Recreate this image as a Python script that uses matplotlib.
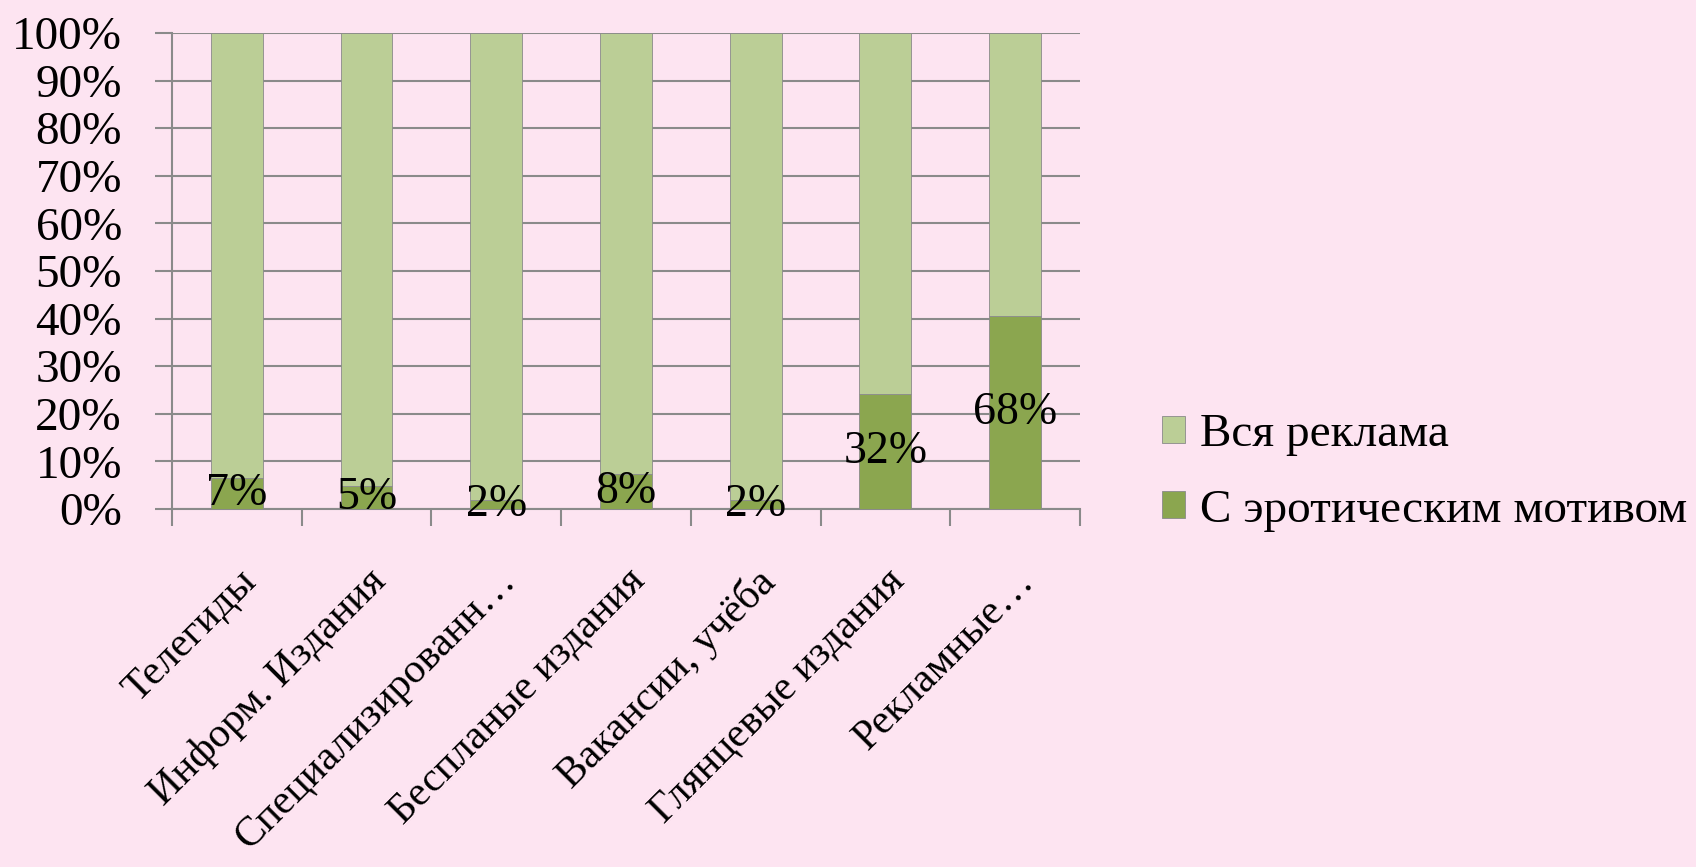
import matplotlib.pyplot as plt
import numpy as np

# Данные диаграммы
категории = ["Телегиды", "Информ. Издания", "Специализированн…",
             "Беспланые издания", "Вакансии, учёба", "Глянцевые издания",
             "Рекламные…"]
вся_реклама = [1.0, 1.0, 1.0, 1.0, 1.0, 1.0, 1.0]
эротика = [0.07, 0.05, 0.02, 0.08, 0.02, 0.32, 0.68]
подписи = ["7%", "5%", "2%", "8%", "2%", "32%", "68%"]

фон = "#FDE4F1"
светлый = "#BBCE96"
тёмный = "#8BA64F"
серый = "#8A8A8A"

plt.rcParams['font.family'] = ['Liberation Serif', 'DejaVu Serif']

fig = plt.figure(figsize=(16.96, 8.67), dpi=100, facecolor=фон)
ax = fig.add_axes([0.1014, 0.4129, 0.5354, 0.5491])
ax.set_facecolor(фон)

# 100% нормировка
всего = np.array(вся_реклама) + np.array(эротика)
доля_эр = np.array(эротика) / всего * 100
доля_вся = np.array(вся_реклама) / всего * 100

x = np.arange(len(категории))
b1 = ax.bar(x, доля_эр, width=0.4, color=тёмный, edgecolor=серый, linewidth=0.6, zorder=3)
b2 = ax.bar(x, доля_вся, bottom=доля_эр, width=0.4, color=светлый, edgecolor=серый,
            linewidth=0.6, zorder=3)

for xi, h, t in zip(x, доля_эр, подписи):
    ax.text(xi, h / 2, t, ha='center', va='center', fontsize=33, zorder=4)

ax.set_xlim(-0.5, len(категории) - 0.5)
ax.set_ylim(0, 100)
ax.set_yticks(np.arange(0, 101, 10))
ax.set_yticklabels([f"{v}%" for v in range(0, 101, 10)], fontsize=34)
ax.yaxis.grid(True, color=серый, linewidth=1.5, zorder=0)
ax.tick_params(axis='y', length=12, width=1.5, color=серый, pad=24)

ax.set_xticks(x)
ax.set_xticklabels(категории, rotation=45, ha='right', rotation_mode='anchor', fontsize=30)
ax.set_xticks(np.arange(-0.5, len(категории)), minor=True)
ax.tick_params(axis='x', which='major', length=0, pad=38)
ax.tick_params(axis='x', which='minor', length=12, width=1.5, color=серый)

for s in ['top', 'right']:
    ax.spines[s].set_visible(False)
for s in ['left', 'bottom']:
    ax.spines[s].set_color(серый)
    ax.spines[s].set_linewidth(1.5)

fig.legend([b2, b1], ["Вся реклама", "С эротическим мотивом"],
           loc='center left', bbox_to_anchor=(0.66, 0.455), frameon=False,
           fontsize=34, handlelength=0.5, handleheight=0.5, handletextpad=0.3,
           labelspacing=0.7)

fig.savefig("out.png", dpi=100, facecolor=фон)
